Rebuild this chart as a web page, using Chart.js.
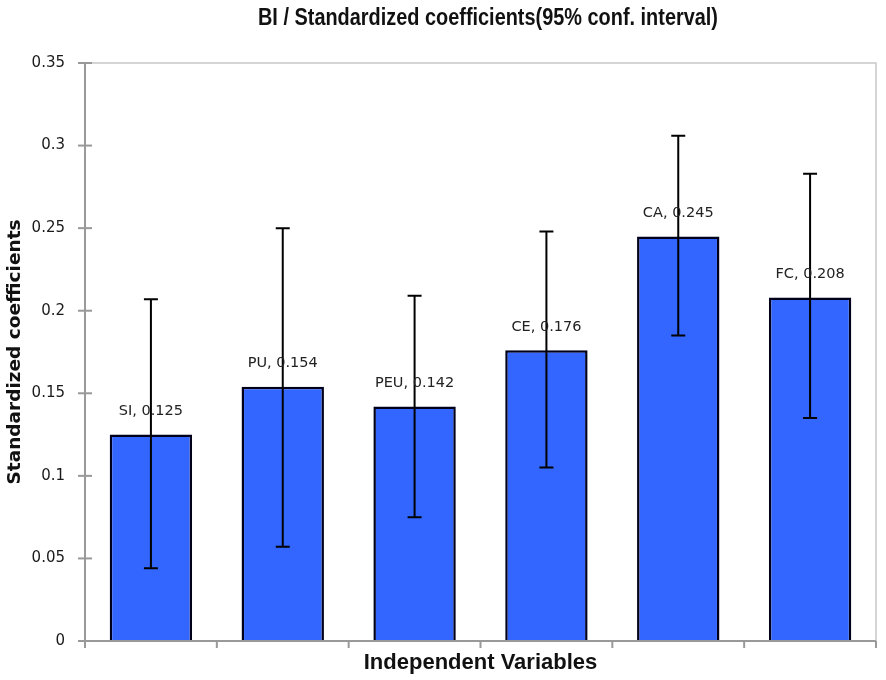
<!DOCTYPE html>
<html><head><meta charset="utf-8">
<script src="https://cdn.jsdelivr.net/npm/chart.js@4/dist/chart.umd.min.js"></script>
<style>html,body{margin:0;padding:0;background:#fff}#wrap{width:886px;height:680px}</style>
</head><body><div id="wrap"><canvas id="c" width="886" height="680"></canvas></div>
<script>
const categories = ['SI', 'PU', 'PEU', 'CE', 'CA', 'FC'];
const coefficients = [0.125, 0.154, 0.142, 0.176, 0.245, 0.208];
const ciUpper = [0.207, 0.250, 0.209, 0.248, 0.306, 0.283];
const ciLower = [0.044, 0.057, 0.075, 0.105, 0.185, 0.135];
const yTicks = [0, 0.05, 0.1, 0.15, 0.2, 0.25, 0.3, 0.35];
const chartTitle = 'BI / Standardized coefficients(95% conf. interval)';

const decor = {
  id: 'decor',
  afterDatasetsDraw(chart) {
    const ctx = chart.ctx, a = chart.chartArea;
    const x = chart.scales.x, y = chart.scales.y;
    const meta = chart.getDatasetMeta(0);
    ctx.save();
    ctx.fillStyle = '#111';
    ctx.font = 'bold 22px "Liberation Sans", Arial, sans-serif';
    ctx.textAlign = 'center'; ctx.textBaseline = 'middle';
    const w = ctx.measureText(chartTitle).width;
    const sx = 460 / w;
    ctx.save(); ctx.translate(488, 19); ctx.scale(sx, 1.05); ctx.fillText(chartTitle, 0, 0); ctx.restore();
    ctx.strokeStyle = '#c8c8c8'; ctx.lineWidth = 1.5;
    ctx.beginPath(); ctx.moveTo(a.left, a.top); ctx.lineTo(a.right, a.top); ctx.lineTo(a.right, a.bottom); ctx.stroke();
    ctx.strokeStyle = '#999'; ctx.lineWidth = 2;
    ctx.beginPath(); ctx.moveTo(a.left, a.top); ctx.lineTo(a.left, a.bottom); ctx.lineTo(a.right, a.bottom); ctx.stroke();
    yTicks.forEach(v => { const py = y.getPixelForValue(v); ctx.beginPath(); ctx.moveTo(a.left - 7, py); ctx.lineTo(a.left + 7, py); ctx.stroke(); });
    const step = (x.getPixelForValue(1) - x.getPixelForValue(0));
    for (let i = 0; i <= categories.length; i++) {
      const px = x.getPixelForValue(0) - step / 2 + i * step;
      ctx.beginPath(); ctx.moveTo(px, a.bottom); ctx.lineTo(px, a.bottom + 7); ctx.stroke();
    }
    ctx.strokeStyle = '#000'; ctx.lineWidth = 2;
    meta.data.forEach((bar, i) => {
      const px = bar.x, yt = y.getPixelForValue(ciUpper[i]), yb = y.getPixelForValue(ciLower[i]);
      ctx.beginPath();
      ctx.moveTo(px, yt); ctx.lineTo(px, yb);
      ctx.moveTo(px - 7, yt); ctx.lineTo(px + 7, yt);
      ctx.moveTo(px - 7, yb); ctx.lineTo(px + 7, yb);
      ctx.stroke();
    });
    ctx.fillStyle = '#222'; ctx.font = '14.5px "DejaVu Sans"'; ctx.textAlign = 'center'; ctx.textBaseline = 'middle';
    meta.data.forEach((bar, i) => {
      ctx.fillText(categories[i] + ', ' + coefficients[i].toFixed(3), bar.x, bar.y - 23);
    });
    ctx.restore();
  }
};

new Chart(document.getElementById('c'), {
  type: 'bar',
  data: {
    labels: categories,
    datasets: [{
      data: coefficients,
      backgroundColor: '#3366ff',
      borderColor: '#00001a',
      borderWidth: 2.5,
      borderSkipped: 'bottom',
      categoryPercentage: 1,
      barPercentage: 0.625
    }]
  },
  options: {
    responsive: false,
    animation: false,
    layout: { padding: { top: 63, right: 10, left: 0, bottom: 0 } },
    plugins: {
      legend: { display: false },
      tooltip: { enabled: false },
      title: { display: false }
    },
    scales: {
      x: {
        grid: { display: false },
        border: { display: false },
        ticks: { display: false },
        afterFit(s) { s.height = 39; },
        title: {
          display: true, text: 'Independent Variables', color: '#111',
          font: { family: '"Liberation Sans", Arial, sans-serif', size: 22, weight: 'bold', lineHeight: 1.2 },
          padding: { top: 0, bottom: 4 }
        }
      },
      y: {
        min: 0, max: 0.35,
        grid: { display: false },
        border: { display: false },
        afterBuildTicks(s) { s.ticks = yTicks.map(v => ({ value: v })); },
        afterFit(s) { s.width = 85; },
        ticks: {
          color: '#1a1a1a', padding: 12,
          font: { family: '"DejaVu Sans"', size: 15 },
          callback: v => String(+v.toFixed(2))
        },
        title: {
          display: true, text: 'Standardized coefficients', color: '#111',
          font: { family: '"DejaVu Sans"', size: 18.5, weight: 'bold', lineHeight: 1.2 },
          padding: { top: 4, bottom: 0 }
        }
      }
    }
  },
  plugins: [decor]
});
</script></body></html>
